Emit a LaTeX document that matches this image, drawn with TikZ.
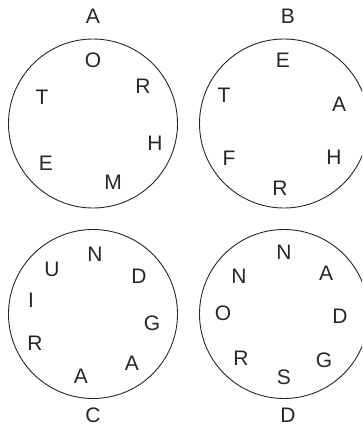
\documentclass[tikz,border=0pt]{standalone}
\usepackage{fontspec}
\setmainfont{Liberation Sans}
\begin{document}
\begin{tikzpicture}[x=1pt,y=-1pt,
  ring/.style={draw=black!85,line width=0.9pt,circle,minimum size=169pt,inner sep=0pt},
  lt/.style={font=\fontsize{21}{21}\selectfont,text=black!85,inner sep=0pt,anchor=center}]
\useasboundingbox (0,0) rectangle (362,431);
\begin{scope}
\clip (0,0) rectangle (362,431);
\node[ring] (cA) at (93,123.5) {};
\node[ring] (cB) at (284,123.5) {};
\node[ring] (cC) at (93,314) {};
\node[ring] (cD) at (284,314) {};
\end{scope}
% titles
\node[lt] (tA) at (93,16) {A};
\node[lt] (tB) at (288,16) {B};
\node[lt] (tC) at (93,415) {C};
\node[lt] (tD) at (288,415) {D};
% A
\node[lt] (a1) at (93,60) {O};
\node[lt] (a2) at (143,86) {R};
\node[lt] (a3) at (42,97) {T};
\node[lt] (a4) at (155,143) {H};
\node[lt] (a5) at (46,163) {E};
\node[lt] (a6) at (113,182) {M};
% B
\node[lt] (b1) at (283,60) {E};
\node[lt] (b2) at (224,95) {T};
\node[lt] (b3) at (339,104) {A};
\node[lt] (b4) at (229,158) {F};
\node[lt] (b5) at (334,157) {H};
\node[lt] (b6) at (280,188) {R};
% C
\node[lt] (c1) at (95,254) {N};
\node[lt] (c2) at (52,269) {U};
\node[lt] (c3) at (139,276) {D};
\node[lt] (c4) at (31,300) {I};
\node[lt] (c5) at (152,323) {G};
\node[lt] (c6) at (35,343) {R};
\node[lt] (c7) at (132,363) {A};
\node[lt] (c8) at (81,376) {A};
% D
\node[lt] (d1) at (284,252) {N};
\node[lt] (d2) at (239,276) {N};
\node[lt] (d3) at (326,273) {A};
\node[lt] (d4) at (223,313) {O};
\node[lt] (d5) at (340,316) {D};
\node[lt] (d6) at (241,358) {R};
\node[lt] (d7) at (324,360) {G};
\node[lt] (d8) at (284,377) {S};
\end{tikzpicture}
\end{document}
